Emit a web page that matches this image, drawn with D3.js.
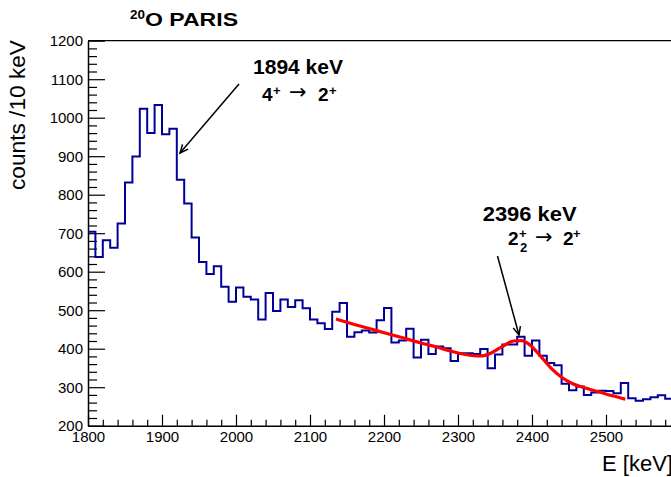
<!DOCTYPE html>
<html>
<head>
<meta charset="utf-8">
<script src="https://cdn.jsdelivr.net/npm/d3@7"></script>
<style>
  html, body { margin: 0; padding: 0; background: #fff; }
  svg { display: block; font-family: "Liberation Sans", Arial, Helvetica, sans-serif; }
</style>
</head>
<body>
<svg id="chart" width="671" height="477"></svg>
<script>
// ---- data ----
const binStart = 1800;
const binWidth = 10;
const counts = [
  704, 638, 682, 662, 725, 832, 899, 1023, 960, 1033,
  957, 971, 839, 777, 689, 625, 594, 614, 561, 522,
  559, 535, 528, 476, 545, 498, 528, 508, 526, 505,
  476, 466, 451, 496, 519, 431, 443, 447, 442, 474,
  506, 416, 421, 452, 377, 423, 386, 406, 401, 368,
  388, 388, 386, 399, 349, 385, 411, 411, 431, 382,
  421, 382, 363, 357, 309, 292, 302, 280, 286, 291,
  290, 284, 311, 271, 265, 269, 274, 279, 270
];
const fitE = [2135, 2160, 2190, 2220, 2250, 2270, 2290, 2310, 2330, 2345, 2360, 2375, 2386, 2395, 2410, 2425, 2440, 2455, 2470, 2490, 2510, 2526];
const fitV = [477, 463, 447, 431, 415, 405, 394, 385, 381, 389, 406, 420, 421, 413, 384, 351, 326, 309, 299, 288, 277, 269];
const xMajorTicks = [1800, 1900, 2000, 2100, 2200, 2300, 2400, 2500];
const yMajorTicks = [200, 300, 400, 500, 600, 700, 800, 900, 1000, 1100, 1200];
const titleSup = "20";
const titleMain = "O PARIS";
const yLabel = "counts /10 keV";
const xLabel = "E [keV]";

// ---- scales ----
const svg = d3.select("#chart");
const x = d3.scaleLinear().domain([1800, 2600]).range([88, 680]);
const y = d3.scaleLinear().domain([200, 1200]).range([425.7, 40.7]);

const xMinor = d3.range(1800, 2590, 20).filter(v => v % 100 !== 0);
const yMinor = d3.range(200, 1201, 20).filter(v => v % 100 !== 0);

// ---- frame top line ----
svg.append("line")
  .attr("x1", x(1800)).attr("x2", x(2600))
  .attr("y1", y(1200)).attr("y2", y(1200))
  .attr("stroke", "#000").attr("stroke-width", 1.3);

// ---- axes ----
const xAxisG = svg.append("g").attr("transform", `translate(0,${y(200)})`);
xAxisG.call(d3.axisBottom(x).tickValues(xMajorTicks).tickFormat(d3.format("d"))
  .tickSizeInner(-11).tickSizeOuter(0).tickPadding(6));
xAxisG.append("g").call(d3.axisBottom(x).tickValues(xMinor).tickFormat("")
  .tickSizeInner(-6).tickSizeOuter(0)).select(".domain").remove();

const yAxisG = svg.append("g").attr("transform", `translate(${x(1800)},0)`);
yAxisG.call(d3.axisLeft(y).tickValues(yMajorTicks).tickFormat(d3.format("d"))
  .tickSizeInner(-17).tickSizeOuter(0).tickPadding(5));
yAxisG.append("g").call(d3.axisLeft(y).tickValues(yMinor).tickFormat("")
  .tickSizeInner(-9).tickSizeOuter(0)).select(".domain").remove();

svg.selectAll(".domain").attr("stroke-width", 1.5);
svg.selectAll(".tick line").attr("stroke-width", 1.2);
svg.selectAll(".tick text")
  .attr("font-family", "'Liberation Sans', Arial, sans-serif")
  .attr("font-size", 15).attr("fill", "#000");

// ---- histogram ----
const pts = counts.map((c, i) => [binStart + i * binWidth, c]);
pts.push([binStart + counts.length * binWidth, counts[counts.length - 1]]);
const stepLine = d3.line().x(d => x(d[0])).y(d => y(d[1])).curve(d3.curveStepAfter);
svg.append("path").attr("d", stepLine(pts))
  .attr("fill", "none").attr("stroke", "#000099").attr("stroke-width", 2);

// ---- fit ----
const fitLine = d3.line().x((d, i) => x(fitE[i])).y(d => y(d)).curve(d3.curveMonotoneX);
svg.append("path").attr("d", fitLine(fitV))
  .attr("fill", "none").attr("stroke", "#ff0000").attr("stroke-width", 3.2);

// ---- arrows ----
function arrow(x1, y1, x2, y2) {
  const g = svg.append("g").attr("stroke", "#000").attr("stroke-width", 1.5).attr("fill", "none");
  g.append("line").attr("x1", x1).attr("y1", y1).attr("x2", x2).attr("y2", y2);
  const a = Math.atan2(y2 - y1, x2 - x1);
  const L = 9, w = 0.42;
  g.append("path").attr("d",
    `M${x2 - L * Math.cos(a - w)},${y2 - L * Math.sin(a - w)} L${x2},${y2} L${x2 - L * Math.cos(a + w)},${y2 - L * Math.sin(a + w)}`);
}
arrow(239, 84, 180, 153);
arrow(497.5, 256, 519, 335);

// ---- annotations ----
const bold = "'Liberation Sans', Arial, sans-serif";
svg.append("text").attr("x", 253).attr("y", 74).attr("font-family", bold)
  .attr("font-weight", "bold").attr("font-size", 20)
  .attr("textLength", 90).attr("lengthAdjust", "spacingAndGlyphs").text("1894 keV");

const l2 = svg.append("g").attr("font-family", bold).attr("font-weight", "bold");
l2.append("text").attr("x", 262).attr("y", 100.7).attr("font-size", 19).text("4");
l2.append("text").attr("x", 273).attr("y", 95).attr("font-size", 13).text("+");
l2.append("text").attr("x", 289).attr("y", 99).attr("font-size", 21).attr("font-family", "'DejaVu Sans', sans-serif").attr("font-weight", "normal").text("\u2192");
l2.append("text").attr("x", 318).attr("y", 100.7).attr("font-size", 19).text("2");
l2.append("text").attr("x", 329).attr("y", 95).attr("font-size", 13).text("+");

svg.append("text").attr("x", 482.7).attr("y", 220.7).attr("font-family", bold)
  .attr("font-weight", "bold").attr("font-size", 20)
  .attr("textLength", 94).attr("lengthAdjust", "spacingAndGlyphs").text("2396 keV");

const l3 = svg.append("g").attr("font-family", bold).attr("font-weight", "bold");
l3.append("text").attr("x", 508).attr("y", 245).attr("font-size", 19).text("2");
l3.append("text").attr("x", 519).attr("y", 238).attr("font-size", 13).text("+");
l3.append("text").attr("x", 520).attr("y", 252).attr("font-size", 13).text("2");
l3.append("text").attr("x", 535).attr("y", 244).attr("font-size", 21).attr("font-family", "'DejaVu Sans', sans-serif").attr("font-weight", "normal").text("\u2192");
l3.append("text").attr("x", 563).attr("y", 245).attr("font-size", 19).text("2");
l3.append("text").attr("x", 573).attr("y", 238).attr("font-size", 13).text("+");

// ---- title ----
const t = svg.append("g").attr("font-family", bold).attr("font-weight", "bold");
t.append("text").attr("x", 130).attr("y", 18.5).attr("font-size", 13)
  .attr("textLength", 15).attr("lengthAdjust", "spacingAndGlyphs").text(titleSup);
t.append("text").attr("x", 145).attr("y", 26).attr("font-size", 18.5)
  .attr("textLength", 93).attr("lengthAdjust", "spacingAndGlyphs").text(titleMain);

// ---- axis labels ----
svg.append("text")
  .attr("transform", "translate(25,40) rotate(-90)")
  .attr("text-anchor", "end").attr("font-family", bold).attr("font-size", 22)
  .attr("textLength", 150).attr("lengthAdjust", "spacingAndGlyphs")
  .text(yLabel);
svg.append("text").attr("x", 602).attr("y", 470.7)
  .attr("font-family", bold).attr("font-size", 22).text(xLabel);
</script>
</body>
</html>
